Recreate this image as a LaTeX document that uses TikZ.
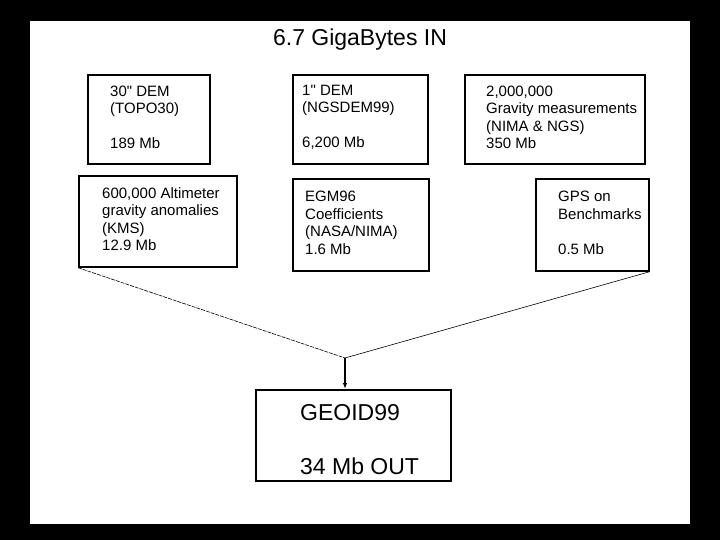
\documentclass[tikz,border=0pt]{standalone}
\usepackage{fontspec}
\setmainfont{Liberation Sans}[Ligatures=TeXOff]
\usetikzlibrary{arrows.meta, positioning, calc}
\tikzset{
  databox/.style={draw, line width=1.7pt, anchor=north west, inner sep=0pt},
  boxtext/.style={anchor=west, align=left, inner sep=0pt,
    font=\fontsize{15}{17.5}\selectfont},
}

\begin{document}
\begin{tikzpicture}[
    x=1pt, y=-1pt,
    >={Latex[length=6pt, width=4.5pt]},
  ]
  \fill[black] (0,0) rectangle (720,540);
  \fill[white] (30,21) rectangle (690,524);
  \node[font=\fontsize{23}{27}\selectfont] (title) at (360,40) {6.7 GigaBytes IN};
  % inputs, top row
  \node[databox, minimum width=122pt, minimum height=89pt] (topo) at (87,74) {};
  \node[boxtext] (topo text) at ([xshift=23pt, yshift=2pt]topo.west) {30" DEM\\(TOPO30)\\[17.5pt]189 Mb};
  \node[databox, minimum width=135pt, minimum height=89pt] (ngsdem) at (292,74) {};
  \node[boxtext] (ngsdem text) at ([xshift=10pt, yshift=2pt]ngsdem.west) {1" DEM\\(NGSDEM99)\\[17.5pt]6,200 Mb};
  \node[databox, minimum width=180pt, minimum height=89pt] (gravity) at (464,74) {};
  \node[boxtext] (gravity text) at ([xshift=22pt, yshift=2pt]gravity.west) {2,000,000\\Gravity measurements\\(NIMA \& NGS)\\350 Mb};
  % inputs, second row
  \node[databox, minimum width=158pt, minimum height=91pt] (alti) at (78,175) {};
  \node[boxtext] (alti text) at ([xshift=24pt, yshift=2pt]alti.west) {600,000 Altimeter\\gravity anomalies\\(KMS)\\12.9 Mb};
  \node[databox, minimum width=136pt, minimum height=92pt] (egm) at (292,178) {};
  \node[boxtext] (egm text) at ([xshift=13pt, yshift=2pt]egm.west) {EGM96\\Coefficients\\(NASA/NIMA)\\1.6 Mb};
  \node[databox, minimum width=113pt, minimum height=92pt] (gps) at (535,178) {};
  \node[boxtext] (gps text) at ([xshift=23pt, yshift=2pt]gps.west) {GPS on\\Benchmarks\\[17.5pt]0.5 Mb};
  % output
  \node[databox, minimum width=195pt, minimum height=91pt] (geoid) at (255,389) {};
  \node[boxtext, font=\fontsize{23}{27}\selectfont] (geoid text) at ([xshift=45pt, yshift=-4pt]geoid.west) {GEOID99\\[27pt]34 Mb OUT};
  \coordinate (merge) at (345,358);
  \draw[line width=0.6pt, dash pattern=on 4pt off 1pt] (alti.south west) -- (merge);
  \draw[line width=0.6pt] (gps.south east) -- (merge);
  \draw[->, line width=1.3pt] (merge) -- (merge |- geoid.north);
\end{tikzpicture}
\end{document}
